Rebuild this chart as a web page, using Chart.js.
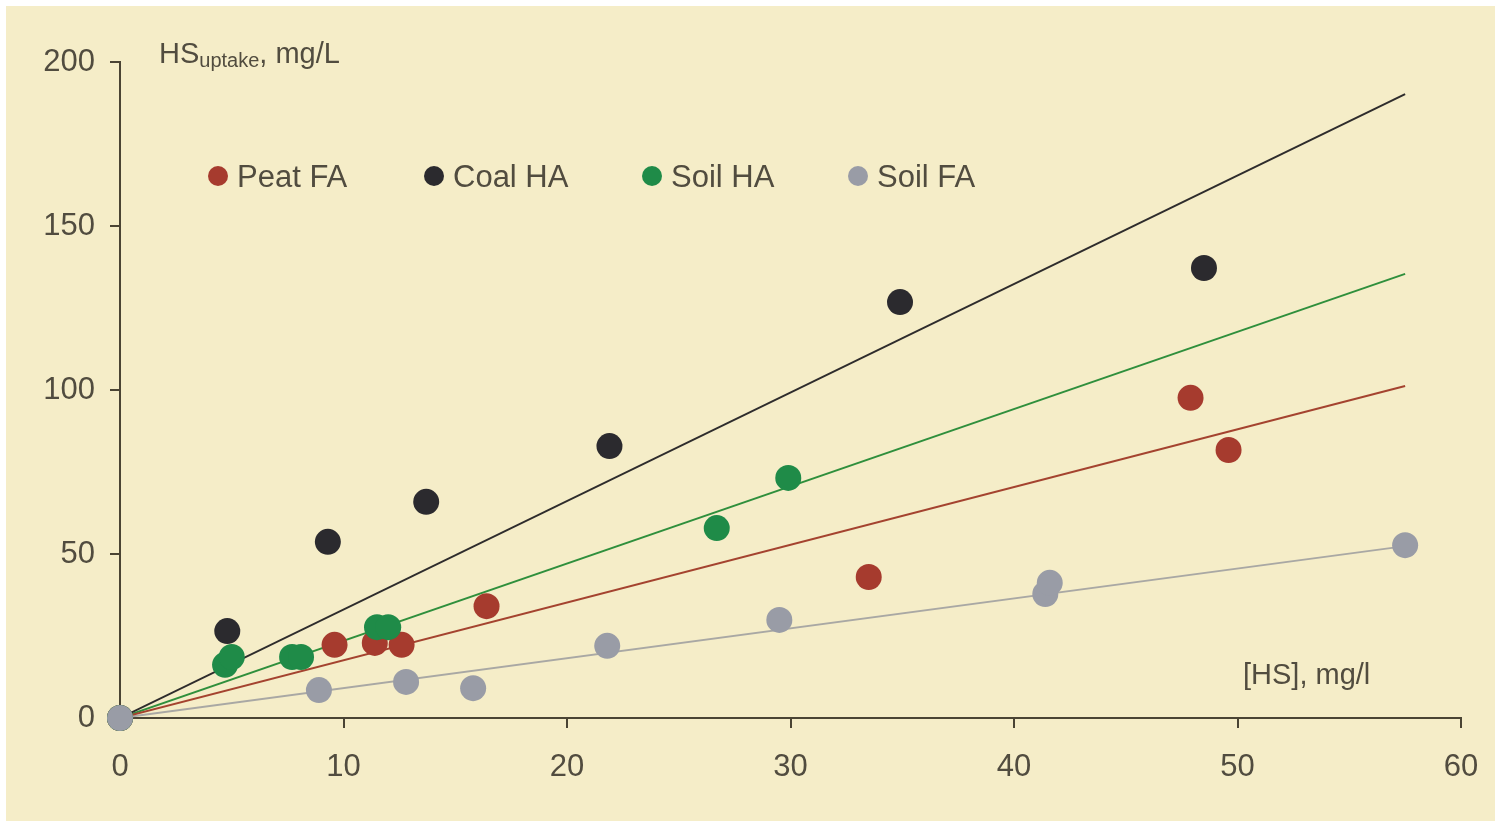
<!DOCTYPE html>
<html>
<head>
<meta charset="utf-8">
<script src="https://cdn.jsdelivr.net/npm/chart.js@4.4.0/dist/chart.umd.min.js"></script>
<style>
  html, body { margin: 0; padding: 0; background: #fff; }
</style>
</head>
<body>
<canvas id="uptake" width="1495" height="821"></canvas>
<script>
// measured points, [HS] mg/l vs HS uptake mg/L
const peatX = [0, 9.6, 11.4, 12.6, 16.4, 33.5, 47.9, 49.6];
const peatY = [0, 22.3, 22.9, 22.3, 34.1, 43.0, 97.6, 81.7];

const coalX = [0, 4.8, 9.3, 13.7, 21.9, 34.9, 48.5];
const coalY = [0, 26.5, 53.7, 65.9, 82.9, 126.8, 137.2];

const soilHaX = [0, 4.7, 5.0, 7.7, 8.1, 11.5, 12.0, 26.7, 29.9];
const soilHaY = [0, 16.2, 18.6, 18.6, 18.6, 27.7, 27.7, 57.9, 73.2];

const soilFaX = [0, 8.9, 12.8, 15.8, 21.8, 29.5, 41.4, 41.6, 57.5];
const soilFaY = [0, 8.5, 11.0, 9.1, 22.0, 29.9, 37.8, 41.2, 52.7];

// fitted lines through origin
const fitX = [0, 57.5];
const fitPeat = [0, 101.2];
const fitCoal = [0, 190.2];
const fitSoilHa = [0, 135.4];
const fitSoilFa = [0, 52.4];

const seriesNames = ["Peat FA", "Coal HA", "Soil HA", "Soil FA"];
const seriesColors = ["#a63b2e", "#2b2a2e", "#1f8b48", "#999ca6"];
const lineColors = ["#a4432f", "#2e2c2c", "#2f8f3c", "#a9a8a4"];

const xTicks = [0, 10, 20, 30, 40, 50, 60];
const yTicks = [0, 50, 100, 150, 200];

const axisColor = "#4a4434";
const textColor = "#514c3f";
const fontFamily = "'Liberation Sans', Arial, sans-serif";

function pts(xs, ys) {
  return xs.map((x, i) => ({ x: x, y: ys[i] }));
}

const pointSets = [[peatX, peatY], [coalX, coalY], [soilHaX, soilHaY], [soilFaX, soilFaY]];
const fitSets = [fitPeat, fitCoal, fitSoilHa, fitSoilFa];
const pointOrder = [2, 3, 1, 0];

const datasets = [];
pointSets.forEach((s, i) => {
  datasets.push({
    label: seriesNames[i],
    data: pts(s[0], s[1]),
    backgroundColor: seriesColors[i],
    borderWidth: 0,
    pointRadius: 13,
    clip: false,
    order: pointOrder[i]
  });
});
fitSets.forEach((f, i) => {
  datasets.push({
    label: seriesNames[i] + " fit",
    data: pts(fitX, f),
    showLine: true,
    borderColor: lineColors[i],
    borderWidth: 2,
    pointRadius: 0,
    order: 10 + i
  });
});

const background = {
  id: "background",
  beforeDraw(chart) {
    const ctx = chart.ctx;
    ctx.save();
    ctx.fillStyle = "#ffffff";
    ctx.fillRect(0, 0, chart.width, chart.height);
    ctx.fillStyle = "#f5edc8";
    ctx.fillRect(6, 6, chart.width - 6, chart.height - 6);
    ctx.restore();
  }
};

const annotations = {
  id: "annotations",
  afterDraw(chart) {
    const ctx = chart.ctx;
    ctx.save();
    ctx.fillStyle = textColor;
    ctx.textBaseline = "alphabetic";
    ctx.textAlign = "left";

    // y axis title with subscript
    let x = 159;
    ctx.font = "29px " + fontFamily;
    ctx.fillText("HS", x, 63);
    x += ctx.measureText("HS").width;
    ctx.font = "20px " + fontFamily;
    ctx.fillText("uptake", x, 67);
    x += ctx.measureText("uptake").width;
    ctx.font = "29px " + fontFamily;
    ctx.fillText(", mg/L", x, 63);

    // x axis title
    ctx.fillText("[HS], mg/l", 1243, 684);

    // legend
    const legendX = [218, 434, 652, 858];
    ctx.font = "31px " + fontFamily;
    seriesNames.forEach((name, i) => {
      ctx.fillStyle = seriesColors[i];
      ctx.beginPath();
      ctx.arc(legendX[i], 176, 10, 0, Math.PI * 2);
      ctx.fill();
      ctx.fillStyle = textColor;
      ctx.fillText(name, legendX[i] + 19, 187);
    });
    ctx.restore();
  }
};

new Chart(document.getElementById("uptake"), {
  type: "scatter",
  data: { datasets: datasets },
  options: {
    responsive: false,
    animation: false,
    layout: { autoPadding: false, padding: { top: 62, right: 34, bottom: 0, left: 0 } },
    plugins: {
      legend: { display: false },
      tooltip: { enabled: false }
    },
    scales: {
      x: {
        min: 0,
        max: 60,
        afterFit: (scale) => {
          scale.height = 103;
          scale.paddingLeft = 0;
          scale.paddingRight = 0;
        },
        afterBuildTicks: (scale) => { scale.ticks = xTicks.map(v => ({ value: v })); },
        ticks: { color: textColor, font: { family: fontFamily, size: 31 }, padding: 21, maxRotation: 0 },
        grid: { drawOnChartArea: false, drawTicks: true, tickLength: 10, color: axisColor, lineWidth: 2 },
        border: { color: axisColor, width: 2 }
      },
      y: {
        min: 0,
        max: 200,
        afterFit: (scale) => { scale.width = 120; },
        afterBuildTicks: (scale) => { scale.ticks = yTicks.map(v => ({ value: v })); },
        ticks: { color: textColor, font: { family: fontFamily, size: 31 }, padding: 15 },
        grid: { drawOnChartArea: false, drawTicks: true, tickLength: 10, color: axisColor, lineWidth: 2 },
        border: { color: axisColor, width: 2 }
      }
    }
  },
  plugins: [background, annotations]
});
</script>
</body>
</html>
